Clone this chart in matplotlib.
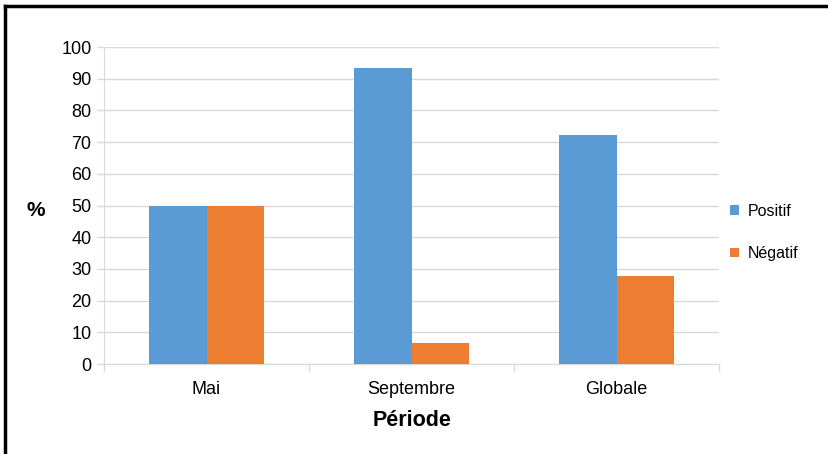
import matplotlib
matplotlib.use("Agg")
import matplotlib.pyplot as plt
from matplotlib.lines import Line2D
import numpy as np

plt.rcParams['font.family'] = ['Liberation Sans', 'DejaVu Sans']

categories = ["Mai", "Septembre", "Globale"]
positif = [50.0, 93.3, 72.3]
negatif = [50.0, 6.7, 27.7]
series_names = ["Positif", "Négatif"]
y_ticks = list(range(0, 101, 10))

blue = "#5B9BD5"
orange = "#ED7D31"
grid_col = "#D9D9D9"

fig = plt.figure(figsize=(8.29, 4.54), dpi=100)
ax = fig.add_axes([0.1255, 0.1982, 0.742, 0.6982])

x = np.arange(len(categories))
w = 0.28
ax.bar(x - w / 2, positif, width=w, color=blue, label=series_names[0], zorder=3)
ax.bar(x + w / 2, negatif, width=w, color=orange, label=series_names[1], zorder=3)

ax.set_xlim(-0.5, len(categories) - 0.5)
ax.set_ylim(0, 100)
ax.set_yticks(y_ticks)
ax.set_yticklabels([str(t) for t in y_ticks], fontsize=13)
ax.set_xticks(x)
ax.set_xticklabels(categories, fontsize=13)
ax.tick_params(axis='x', length=0, pad=12)
ax.tick_params(axis='y', length=5, color=grid_col, width=1, pad=4)

# category boundary ticks
ax.set_xticks(np.arange(len(categories) + 1) - 0.5, minor=True)
ax.tick_params(axis='x', which='minor', length=5, color=grid_col, width=1)

ax.yaxis.grid(True, color=grid_col, linewidth=1, zorder=0)
for s in ["top", "right"]:
    ax.spines[s].set_visible(False)
ax.spines["left"].set_color(grid_col)
ax.spines["bottom"].set_color(grid_col)

ax.set_xlabel("Période", fontsize=15.5, fontweight='bold', labelpad=9)
fig.text(36 / 829, 1 - 211 / 454, "%", fontsize=15, fontweight='bold',
         ha='center', va='center')

ax.legend(loc='center left', bbox_to_anchor=(0.995, 0.415), frameon=False,
          fontsize=11.5, handlelength=0.55, handleheight=0.55, labelspacing=1.7,
          handletextpad=0.55)

# outer frame (top and left edges)
fig.add_artist(Line2D([5.5 / 829, 1.0], [1 - 5.5 / 454, 1 - 5.5 / 454],
                      transform=fig.transFigure, color='black', linewidth=2.5))
fig.add_artist(Line2D([5.5 / 829, 5.5 / 829], [0.0, 1 - 5.5 / 454],
                      transform=fig.transFigure, color='black', linewidth=2.5))

fig.savefig("out.png", dpi=100)
